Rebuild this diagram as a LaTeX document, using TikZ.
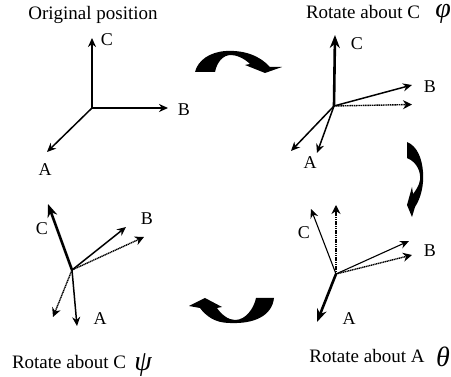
\documentclass[tikz,border=0pt]{standalone}
\usepackage{fontspec}
\setmainfont{Liberation Serif}
\usetikzlibrary{arrows.meta}
\tikzset{
  title/.style={font=\fontsize{19}{22}\selectfont, inner sep=0pt},
  axislabel/.style={font=\fontsize{18}{20}\selectfont, inner sep=0pt},
  anglelabel/.style={font=\fontsize{28}{30}\selectfont\itshape, inner sep=0pt},
  axis/.style={-{Stealth[length=9pt,width=8pt]}, line width=1.5pt, black},
  heavyaxis/.style={-{Stealth[length=13pt,width=10pt]}, line width=2.6pt, black},
  thinaxis/.style={-{Stealth[length=9pt,width=8pt]}, line width=1.1pt, black},
  oldaxis/.style={-{Stealth[length=9pt,width=9pt]}, line width=1.4pt, black, dash pattern=on 1.2pt off 0.6pt},
  turn/.style={fill=black, draw=none}
}
\begin{document}
\begin{tikzpicture}[x=1pt, y=-1pt]
  \useasboundingbox (0,0) rectangle (451,377);

  % Original position
  \node[title] (title1) at (93,15) {Original position};
  \coordinate (o1) at (92,108);
  \coordinate (c1) at (92,38);
  \coordinate (b1) at (168,108);
  \coordinate (a1) at (47,152);
  \draw[axis] (o1) -- (c1);
  \draw[axis] (o1) -- (b1);
  \draw[axis] (o1) -- (a1);
  \node[axislabel] (lc1) at (107,40) {C};
  \node[axislabel] (lb1) at (184,110) {B};
  \node[axislabel] (la1) at (45,170) {A};

  % Rotate about C, phi
  \node[title] (title2) at (363,12) {Rotate about C};
  \node[anglelabel] (phi) at (443,14) {φ};
  \coordinate (o2) at (334,106);
  \coordinate (c2) at (335,35);
  \coordinate (b2) at (412,85);
  \coordinate (b2d) at (412,104.5);
  \coordinate (a2) at (317,153);
  \coordinate (a2d) at (291,151);
  \draw[oldaxis] (o2) -- (b2d);
  \draw[heavyaxis] (o2) -- (c2);
  \draw[axis] (o2) -- (b2);
  \draw[axis] (o2) -- (a2);
  \draw[axis] (o2) -- (a2d);
  \node[axislabel] (lc2) at (357,44) {C};
  \node[axislabel] (lb2) at (430,87) {B};
  \node[axislabel] (la2) at (310,163) {A};

  % Rotate about A, theta
  \node[title] (title3) at (367,356) {Rotate about A};
  \node[anglelabel] (theta) at (443,357) {θ};
  \coordinate (o3) at (336,274);
  \coordinate (c3) at (311,209);
  \coordinate (c3d) at (336,205);
  \coordinate (b3) at (409,241);
  \coordinate (b3d) at (412,255);
  \coordinate (a3) at (317,322);
  \draw[oldaxis] (o3) -- (c3d);
  \draw[oldaxis] (o3) -- (b3d);
  \draw[thinaxis] (o3) -- (c3);
  \draw[thinaxis] (o3) -- (b3);
  \draw[heavyaxis] (o3) -- (a3);
  \node[axislabel] (lc3) at (304,233) {C};
  \node[axislabel] (lb3) at (430,251) {B};
  \node[axislabel] (la3) at (349,319) {A};

  % Rotate about C, psi
  \node[title] (title4) at (69,362) {Rotate about C};
  \node[anglelabel] (psi) at (143,365) {ψ};
  \coordinate (o4) at (72,270);
  \coordinate (c4) at (48,204);
  \coordinate (b4) at (126,227);
  \coordinate (b4d) at (144,237);
  \coordinate (a4) at (77,326);
  \coordinate (a4d) at (53,317);
  \draw[oldaxis] (o4) -- (b4d);
  \draw[oldaxis] (o4) -- (a4d);
  \draw[heavyaxis] (o4) -- (c4);
  \draw[axis] (o4) -- (b4);
  \draw[axis] (o4) -- (a4);
  \node[axislabel] (lc4) at (42,229) {C};
  \node[axislabel] (lb4) at (147,219) {B};
  \node[axislabel] (la4) at (100,319) {A};

  % Turning arrows
  \fill[turn] (195,72) .. controls (198,60) and (210,52) .. (226,51)
    .. controls (245,50) and (260,56) .. (270,67) -- (282,67) -- (265,73) -- (245,65) -- (250,64)
    .. controls (244,58) and (236,55) .. (231,55)
    .. controls (223,55) and (217,62) .. (215,72) -- cycle;
  \fill[turn] (407,142) -- (407,158)
    .. controls (417,162) and (421,172) .. (420,180)
    .. controls (419,186) and (416,190) .. (413,194) -- (412,187) -- (407,205) -- (412,217) -- (415,207)
    .. controls (421,198) and (424,185) .. (423,172)
    .. controls (422,158) and (417,146) .. (407,142) -- cycle;
  \fill[turn] (274,298) -- (256,298)
    .. controls (254,308) and (246,320) .. (235,320)
    .. controls (228,320) and (221,314) .. (217,308) -- (222,307) -- (205,298) -- (189,306) -- (200,308)
    .. controls (206,316) and (215,323) .. (230,323)
    .. controls (254,324) and (272,316) .. (274,298) -- cycle;
\end{tikzpicture}
\end{document}
